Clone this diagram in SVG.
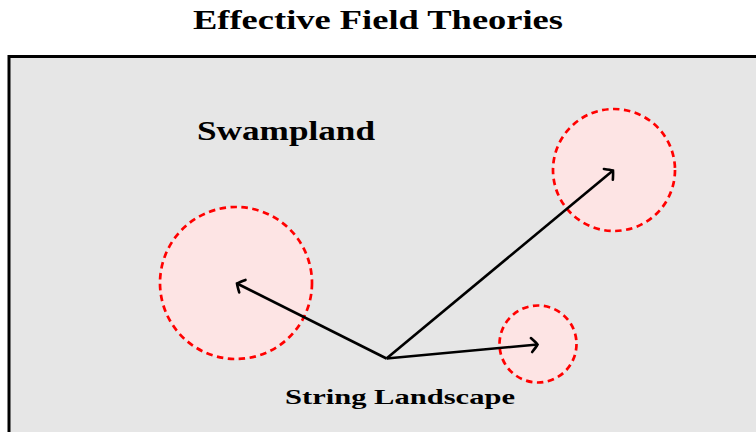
<svg xmlns="http://www.w3.org/2000/svg" width="756" height="432" viewBox="0 0 756 432">
<defs>
<style>
.t{font-family:"Liberation Serif","DejaVu Serif",serif;font-weight:bold;fill:#000}
.c{fill:#fde4e4;stroke:#ff0000;stroke-width:2.7;stroke-dasharray:6.5 4.5}
.a{stroke:#000;stroke-width:2.6;fill:none;marker-end:url(#ah)}
</style>
<marker id="ah" markerUnits="userSpaceOnUse" viewBox="-10 -9 12 18" markerWidth="12" markerHeight="18" refX="0" refY="0" orient="auto">
<path d="M-6,-7 Q-1.5,-2.2 0,0 Q-1.5,2.2 -6,7" fill="none" stroke="#000" stroke-width="2.6" stroke-linecap="round"/>
</marker>
</defs>
<rect width="756" height="432" fill="#fff"/>
<text class="t" x="378" y="29" text-anchor="middle" font-size="28" textLength="370" lengthAdjust="spacingAndGlyphs">Effective Field Theories</text>
<g id="efts">
<rect x="9" y="56.5" width="760" height="390" fill="#e6e6e6" stroke="#000" stroke-width="3"/>
</g>
<g id="swampland">
<text class="t" x="197" y="139.5" font-size="27" textLength="178" lengthAdjust="spacingAndGlyphs">Swampland</text>
</g>
<g id="region1"><circle class="c" cx="236" cy="283" r="76"/></g>
<g id="region2"><circle class="c" cx="614" cy="170" r="61"/></g>
<g id="region3"><circle class="c" cx="538" cy="344" r="38.5"/></g>
<g id="landscape">
<text class="t" x="400" y="404" text-anchor="middle" font-size="21.5" textLength="230" lengthAdjust="spacingAndGlyphs">String Landscape</text>
</g>
<g id="connectors">
<line class="a" x1="386.5" y1="358.5" x2="237" y2="283.5"/>
<line class="a" x1="386.5" y1="358.5" x2="613" y2="170.5"/>
<line class="a" x1="386.5" y1="358.5" x2="537.5" y2="344.5"/>
</g>
</svg>
